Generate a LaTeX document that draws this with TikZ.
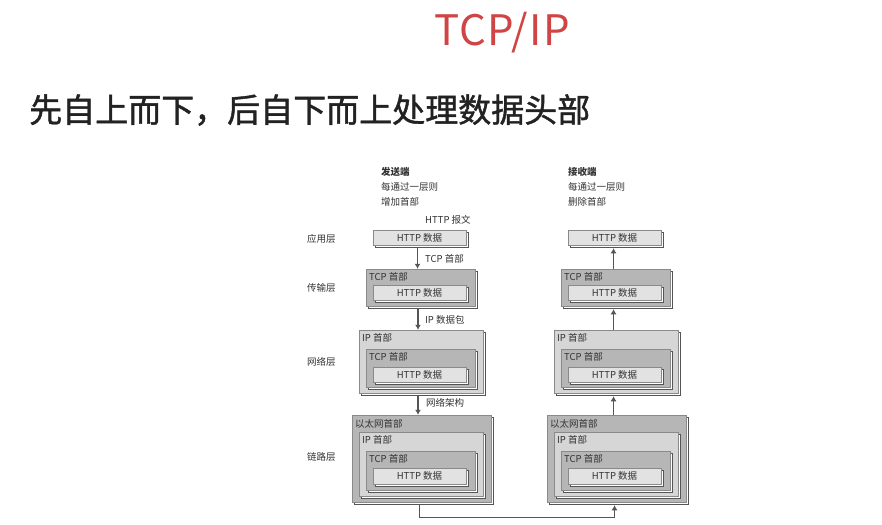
\documentclass[tikz,border=0pt]{standalone}
\usepackage{fontspec}
\setmainfont{Noto Sans CJK SC}
\newfontfamily\titlefont[LetterSpace=3]{Noto Sans CJK SC}
\newfontfamily\subfont[FakeBold=1.3]{Noto Sans CJK SC}
\usetikzlibrary{shadows,fit,arrows.meta}
\definecolor{titlered}{HTML}{CF4545}
\definecolor{txt}{HTML}{222222}
\definecolor{dtxt}{HTML}{333333}
\definecolor{lightbox}{HTML}{E2E2E2}
\definecolor{midbox}{HTML}{B6B6B6}
\definecolor{ipbox}{HTML}{D6D6D6}
\definecolor{edge}{HTML}{8A8A8A}
\definecolor{shade}{HTML}{555555}
\tikzset{
  pbox/.style={draw=edge, line width=0.5pt, inner sep=0pt,
    copy shadow={shadow xshift=2pt, shadow yshift=-2pt, fill=white, draw=shade, line width=1pt}},
  httpbox/.style={pbox, fill=lightbox},
  tcpbox/.style={pbox, fill=midbox},
  ipb/.style={pbox, fill=ipbox},
  ethbox/.style={pbox, fill=midbox},
  small/.style={font=\fontsize{9.5}{11}\selectfont, text=dtxt, inner sep=0pt},
  hdr/.style={small, anchor=west},
  arr/.style={draw=shade, line width=1.6pt, -{Latex[length=5pt,width=6pt]}},
}
\begin{document}
\begin{tikzpicture}[x=1pt,y=-1pt]
\useasboundingbox[fill=white] (0,0) rectangle (882,524);
% titles
\node[text=titlered, font=\titlefont\fontsize{42}{44}\selectfont, inner sep=0pt] (title) at (502,33) {TCP/IP};
\node[text=txt, font=\subfont\fontsize{33}{36}\selectfont, anchor=west, inner sep=0pt] (sub) at (29,110) {先自上而下，后自下而上处理数据头部};

% side descriptions
\node[hdr, font=\bfseries\fontsize{9.5}{11}\selectfont] (s1) at (381,172) {发送端};
\node[hdr] (s2) at (381,187) {每通过一层则};
\node[hdr] (s3) at (381,202) {增加首部};
\node[hdr, font=\bfseries\fontsize{9.5}{11}\selectfont] (r1) at (568,172) {接收端};
\node[hdr] (r2) at (568,187) {每通过一层则};
\node[hdr] (r3) at (568,202) {删除首部};
\node[hdr] (msg) at (425,220) {HTTP 报文};

% layer labels
\node[hdr] (la) at (307,239) {应用层};
\node[hdr] (lt) at (307,288) {传输层};
\node[hdr] (ln) at (307,362) {网络层};
\node[hdr] (ll) at (307,457) {链路层};

% ===== left (sender) column =====
\node[httpbox, fit={(373,230)(466,245)}] (a1) {};
\node[small] at (a1.center) {HTTP 数据};
\node[tcpbox, fit={(366,269)(475,306)}] (t1) {};
\node[hdr] at (369,277) {TCP 首部};
\node[httpbox, fit={(373,285)(466,300)}] (t1h) {};
\node[small] at (t1h.center) {HTTP 数据};
\node[ipb, fit={(359,330)(483,393)}] (n1) {};
\node[hdr] at (362,338) {IP 首部};
\node[tcpbox, fit={(366,349)(475,387)}] (n1t) {};
\node[hdr] at (369,357) {TCP 首部};
\node[httpbox, fit={(373,367)(466,382)}] (n1h) {};
\node[small] at (n1h.center) {HTTP 数据};
\node[ethbox, fit={(352,415)(491,502)}] (l1) {};
\node[hdr] at (355,424) {以太网首部};
\node[ipb, fit={(359,432)(483,496)}] (l1i) {};
\node[hdr] at (362,440) {IP 首部};
\node[tcpbox, fit={(366,451)(475,490)}] (l1t) {};
\node[hdr] at (369,459) {TCP 首部};
\node[httpbox, fit={(373,468)(466,484)}] (l1h) {};
\node[small] at (l1h.center) {HTTP 数据};

% ===== right (receiver) column =====
\begin{scope}[xshift=195pt]
\node[httpbox, fit={(373,230)(466,245)}] (a2) {};
\node[small] at (a2.center) {HTTP 数据};
\node[tcpbox, fit={(366,269)(475,306)}] (t2) {};
\node[hdr] at (369,277) {TCP 首部};
\node[httpbox, fit={(373,285)(466,300)}] (t2h) {};
\node[small] at (t2h.center) {HTTP 数据};
\node[ipb, fit={(359,330)(483,393)}] (n2) {};
\node[hdr] at (362,338) {IP 首部};
\node[tcpbox, fit={(366,349)(475,387)}] (n2t) {};
\node[hdr] at (369,357) {TCP 首部};
\node[httpbox, fit={(373,367)(466,382)}] (n2h) {};
\node[small] at (n2h.center) {HTTP 数据};
\node[ethbox, fit={(352,415)(491,502)}] (l2) {};
\node[hdr] at (355,424) {以太网首部};
\node[ipb, fit={(359,432)(483,496)}] (l2i) {};
\node[hdr] at (362,440) {IP 首部};
\node[tcpbox, fit={(366,451)(475,490)}] (l2t) {};
\node[hdr] at (369,459) {TCP 首部};
\node[httpbox, fit={(373,468)(466,484)}] (l2h) {};
\node[small] at (l2h.center) {HTTP 数据};
\end{scope}

% ===== arrows left (down) =====
\draw[arr] ([xshift=-2pt,yshift=-3pt]a1.south) -- ([xshift=-2pt]a1.south |- t1.north);
\node[hdr] (lab1) at (425,259) {TCP 首部};
\draw[arr] ([xshift=-2.5pt,yshift=-3pt]t1.south) -- ([xshift=-2.5pt]t1.south |- n1.north);
\node[hdr] (lab2) at (425,320) {IP 数据包};
\draw[arr] ([xshift=-3pt,yshift=-3pt]n1.south) -- ([xshift=-3pt]n1.south |- l1.north);
\node[hdr] (lab3) at (426,403) {网络架构};

% ===== arrows right (up) =====
\draw[arr] ([xshift=-2pt]t2.north) -- ([xshift=-2pt,yshift=-3pt]t2.north |- a2.south);
\draw[arr] ([xshift=-2.5pt]n2.north) -- ([xshift=-2.5pt,yshift=-3pt]n2.north |- t2.south);
\draw[arr] ([xshift=-3pt]l2.north) -- ([xshift=-3pt,yshift=-3pt]l2.north |- n2.south);

% bottom link
\coordinate (bl) at ([xshift=-2pt,yshift=-15pt]l1.south);
\draw[arr, line width=1.4pt] ([xshift=-2pt,yshift=-3pt]l1.south) -- (bl) -| ([xshift=-2pt,yshift=-3pt]l2.south);
\end{tikzpicture}
\end{document}
